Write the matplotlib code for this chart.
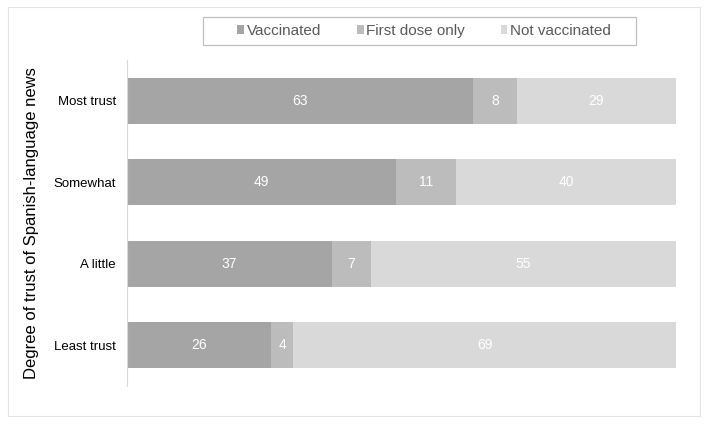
import matplotlib
matplotlib.use("Agg")
import matplotlib.pyplot as plt
from matplotlib.patches import Rectangle

plt.rcParams['font.family'] = ['Liberation Sans', 'DejaVu Sans']

categories = ["Most trust", "Somewhat", "A little", "Least trust"]
series_names = ["Vaccinated", "First dose only", "Not vaccinated"]
vaccinated = [63, 49, 37, 26]
first_dose = [8, 11, 7, 4]
not_vaccinated = [29, 40, 55, 69]
colors = ["#A5A5A5", "#BCBCBC", "#D9D9D9"]

fig = plt.figure(figsize=(7.07, 4.29), dpi=100)
fig.patches.append(Rectangle((8/707, 1-416/429), 692/707, 409/429, transform=fig.transFigure,
                             fill=False, edgecolor="#E3E3E3", linewidth=0.8))
ax = fig.add_axes([127/707, 1-386/429, 549/707, 326/429])

# 100% stacked: each bar normalised to its total
series = [vaccinated, first_dose, not_vaccinated]
totals = [sum(t) for t in zip(*series)]
y = list(range(len(categories)))
left = [0.0]*len(categories)
for name, vals, c in zip(series_names, series, colors):
    widths = [v / t * 100 for v, t in zip(vals, totals)]
    ax.barh(y, widths, left=left, height=0.56, color=c, label=name, edgecolor="none")
    for yi, l, w, v in zip(y, left, widths, vals):
        ax.text(l + w/2, yi, str(v), ha="center", va="center", color="white", fontsize=10)
    left = [a + b for a, b in zip(left, widths)]

ax.set_xlim(0, 100)
ax.set_ylim(3.5, -0.5)
ax.set_yticks(y)
ax.set_yticklabels(categories, fontsize=9.5)
ax.tick_params(axis="y", length=0, pad=8)
ax.set_xticks([])
for s in ["top", "right", "bottom"]:
    ax.spines[s].set_visible(False)
ax.spines["left"].set_color("#D9D9D9")
ax.spines["left"].set_linewidth(0.8)

fig.text(32/707, 1-223/429, "Degree of trust of Spanish-language news", rotation=90,
         ha="center", va="center", fontsize=12)

# legend box
fig.patches.append(Rectangle((203/707, 1-45/429), 433/707, 28/429, transform=fig.transFigure,
                             fill=False, edgecolor="#BFBFBF", linewidth=0.9))
leg = fig.legend(loc="center", bbox_to_anchor=(424/707, 1-31/429), ncol=3, frameon=False,
                 fontsize=11, handlelength=0.45, handleheight=0.45, handletextpad=0.15,
                 columnspacing=2.35, borderpad=0.2)
for t in leg.get_texts():
    t.set_color("#595959")

fig.savefig("out.png", dpi=100)
